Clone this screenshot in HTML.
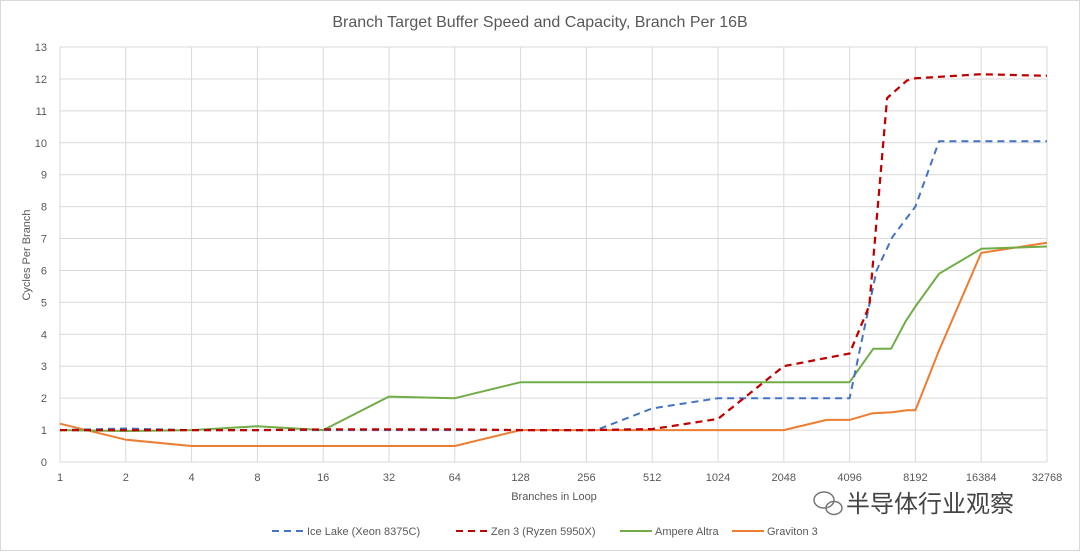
<!DOCTYPE html>
<html><head><meta charset="utf-8"><style>
body{margin:0;background:#fff;font-family:"Liberation Sans","Noto Sans CJK SC",sans-serif}
svg text{font-family:"Liberation Sans","Noto Sans CJK SC",sans-serif;fill:#595959}
</style></head><body>
<svg id="c" width="1080" height="551">
<rect x="0.5" y="0.5" width="1079" height="550" fill="#fff" stroke="#d9d9d9"/>
<text x="540" y="27" font-size="16" text-anchor="middle">Branch Target Buffer Speed and Capacity, Branch Per 16B</text>
<text transform="translate(30,255) rotate(-90)" font-size="11" text-anchor="middle">Cycles Per Branch</text>
<text x="554" y="500" font-size="11" text-anchor="middle">Branches in Loop</text>
<g id="grid"></g><g id="series"></g><g id="legend"></g>
<g fill="none" stroke="#777" stroke-width="1.5">
<ellipse cx="824" cy="500" rx="10" ry="8"/><ellipse cx="834" cy="508" rx="8" ry="6.5"/>
</g>
<text x="846" y="512" font-size="24" style="fill:#444">半导体行业观察</text>
</svg>
<script>
const xTicks=[1,2,4,8,16,32,64,128,256,512,1024,2048,4096,8192,16384,32768];
const yTicks=[0,1,2,3,4,5,6,7,8,9,10,11,12,13];
const names=["Ice Lake (Xeon 8375C)","Zen 3 (Ryzen 5950X)","Ampere Altra","Graviton 3"];
const iceX=[0,1,2,3,4,5,6,7,8.15,9,10,11,12,12.41,12.65,13,13.36,14,15];
const iceY=[1,1.05,1,1,1,1,1,1,1,1.68,2,2,2,6,7.05,8,10.05,10.05,10.05];
const zenX=[0,1,2,3,4,5,6,7,8,9,10,11,12,12.3,12.57,12.87,13,14,15];
const zenY=[1,1,1,1,1.02,1.02,1.02,1,1,1.03,1.35,3,3.4,4.9,11.4,11.95,12.02,12.15,12.1];
const ampX=[0,1,2,3,4,5,6,7,8,9,10,11,12,12.36,12.63,12.85,13,13.36,14,15];
const ampY=[1,0.97,1,1.12,1,2.05,2,2.5,2.5,2.5,2.5,2.5,2.5,3.55,3.55,4.4,4.87,5.9,6.68,6.75];
const gravX=[0,1,2,3,4,5,6,7,8,9,10,11,11.65,12,12.35,12.65,12.87,13,13.36,14,15];
const gravY=[1.2,0.7,0.5,0.5,0.5,0.5,0.5,1,1,1,1,1,1.32,1.32,1.53,1.56,1.62,1.62,3.5,6.55,6.87];
const X=e=>60+e*65.8, Y=v=>462-v*31.92;
const NS="http://www.w3.org/2000/svg";
const grid=document.getElementById('grid'),ser=document.getElementById('series'),leg=document.getElementById('legend');
function mk(t,a,p){const e=document.createElementNS(NS,t);for(const k in a)e.setAttribute(k,a[k]);p.appendChild(e);return e;}
yTicks.forEach(v=>{
 const l=mk('line',{x1:60,x2:1047,y1:Y(v),y2:Y(v),stroke:'#d9d9d9','stroke-width':1},grid);
 
 
 const t=mk('text',{x:47,y:Y(v)+4,'font-size':11,'text-anchor':'end'},grid);t.textContent=v;
 
 
});
xTicks.forEach((v,i)=>{
 const l=mk('line',{x1:X(i),x2:X(i),y1:Y(13),y2:Y(0),stroke:'#d9d9d9','stroke-width':1},grid);
 
 
 const t=mk('text',{x:X(i),y:481,'font-size':11,'text-anchor':'middle'},grid);t.textContent=v;
 
 
});
const styles=[["#4472c4","7,5"],["#c00000","7,5"],["#70ad47",""],["#ed7d31",""]];
const xs=[iceX,zenX,ampX,gravX],ys=[iceY,zenY,ampY,gravY];
const order=[3,2,0,1];
order.forEach(s=>{
 const d=xs[s].map((x,i)=>(i?'L':'M')+X(x).toFixed(1)+','+Y(ys[s][i]).toFixed(1)).join(' ');
 const p=mk('path',{d:d,fill:'none',stroke:styles[s][0],'stroke-width':s==1?2.25:2,'stroke-dasharray':styles[s][1],'stroke-linejoin':'round'},ser);
 
 
});
const lx=[272,456,620,732];
names.forEach((n,s)=>{
 const l=mk('line',{x1:lx[s],x2:lx[s]+32,y1:531,y2:531,stroke:styles[s][0],'stroke-width':2,'stroke-dasharray':styles[s][1]},leg);
 
 
 const t=mk('text',{x:lx[s]+35,y:535,'font-size':11},leg);t.textContent=n;
 
 
});
</script>
</body></html>
